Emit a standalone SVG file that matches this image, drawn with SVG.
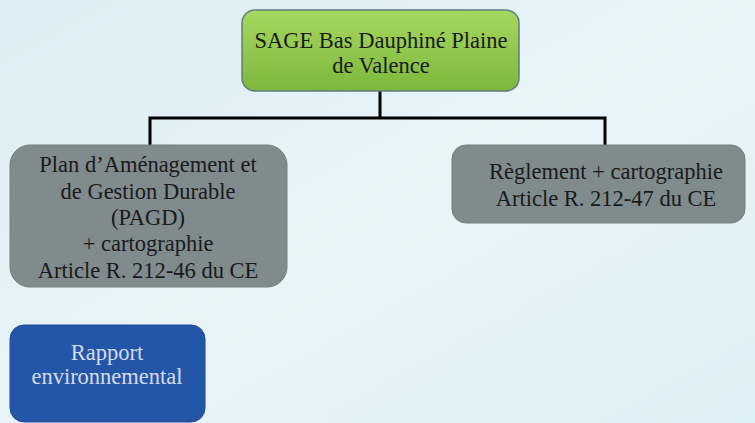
<svg xmlns="http://www.w3.org/2000/svg" width="755" height="423" viewBox="0 0 755 423">
<defs>
<linearGradient id="bg" x1="0" y1="0" x2="1" y2="1">
<stop offset="0" stop-color="#dcedf3"/>
<stop offset="0.5" stop-color="#e8f4f8"/>
<stop offset="1" stop-color="#dff0f6"/>
</linearGradient>
<linearGradient id="green" x1="0" y1="0" x2="0" y2="1">
<stop offset="0" stop-color="#a6d85e"/>
<stop offset="1" stop-color="#7cb83c"/>
</linearGradient>
<style>
.t{font-family:"Liberation Serif","DejaVu Serif",serif;font-size:22.5px;fill:#1a1a1a;text-anchor:middle}
.w{fill:#d4dcec}
.gray{fill:#7f8b8d;stroke:#74807f;stroke-width:1}
.conn{fill:none;stroke:#000;stroke-width:3}
</style>
</defs>
<rect width="755" height="423" fill="url(#bg)"/>
<g id="connectors">
<path class="conn" d="M380,91 V118 M150,118 H605 M150,116.5 V146 M605,116.5 V146"/>
</g>
<g id="sage">
<rect x="242" y="10" width="277" height="81" rx="13" fill="url(#green)" stroke="#5d7f7f" stroke-width="1.5"/>
<text class="t" x="381" y="48">SAGE Bas Dauphiné Plaine</text>
<text class="t" x="381" y="73">de Valence</text>
</g>
<g id="pagd">
<rect class="gray" x="10" y="145" width="277" height="142" rx="20"/>
<text class="t" x="148" y="172">Plan d’Aménagement et</text>
<text class="t" x="148" y="199">de Gestion Durable</text>
<text class="t" x="148" y="225">(PAGD)</text>
<text class="t" x="148" y="251">+ cartographie</text>
<text class="t" x="148" y="278">Article R. 212-46 du CE</text>
</g>
<g id="reglement">
<rect class="gray" x="452" y="145" width="293" height="78" rx="14"/>
<text class="t" x="606" y="179">Règlement + cartographie</text>
<text class="t" x="606" y="206">Article R. 212-47 du CE</text>
</g>
<g id="rapport">
<rect x="10" y="325" width="195" height="97" rx="14" fill="#2456a8" stroke="#1f4d96" stroke-width="1"/>
<text class="t w" x="107" y="360">Rapport</text>
<text class="t w" x="107" y="384">environnemental</text>
</g>
</svg>
